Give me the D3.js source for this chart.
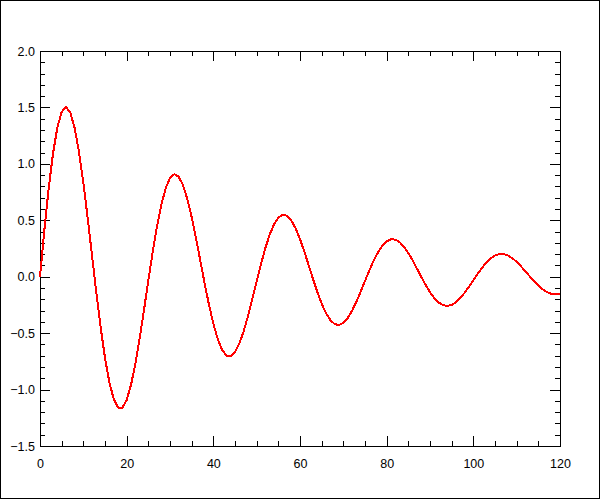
<!DOCTYPE html>
<html>
<head>
<meta charset="utf-8">
<script src="https://cdn.jsdelivr.net/npm/d3@7"></script>
<style>
  body { margin: 0; background: #fff; }
  svg { display: block; }
  .axis text { font-family: "Liberation Sans", Arial, sans-serif; font-size: 12.5px; fill: #000; }
  .axis path, .axis line { stroke: #000; shape-rendering: crispEdges; }
</style>
</head>
<body>
<div id="chart"></div>
<script>
// sample positions (x) and damped oscillation values (y)
const xValues = d3.range(0, 121);
const yValues = [
  0.000, 0.412, 0.783, 1.091, 1.321, 1.460, 1.504, 1.454, 1.317, 1.105,
  0.833, 0.521, 0.189, -0.142, -0.451, -0.720, -0.934, -1.083, -1.159, -1.162,
  -1.093, -0.959, -0.772, -0.546, -0.294, -0.034, 0.217, 0.446, 0.638, 0.783,
  0.875, 0.909, 0.887, 0.811, 0.688, 0.527, 0.341, 0.141, -0.060, -0.249,
  -0.416, -0.550, -0.646, -0.698, -0.705, -0.669, -0.593, -0.483, -0.349, -0.198,
  -0.041, 0.112, 0.253, 0.372, 0.464, 0.524, 0.549, 0.540, 0.498, 0.427,
  0.333, 0.222, 0.102, -0.020, -0.136, -0.239, -0.323, -0.384, -0.420, -0.428,
  -0.409, -0.366, -0.302, -0.223, -0.132, -0.038, 0.056, 0.142, 0.216, 0.274,
  0.313, 0.332, 0.329, 0.306, 0.265, 0.210, 0.144, 0.071, -0.003, -0.073,
  -0.137, -0.189, -0.228, -0.252, -0.259, -0.250, -0.226, -0.189, -0.142, -0.088,
  -0.030, 0.026, 0.079, 0.125, 0.162, 0.187, 0.200, 0.200, 0.187, 0.164,
  0.132, 0.092, 0.049, 0.004, -0.039, -0.078, -0.111, -0.136, -0.151, -0.157,
  -0.152
];

const xMajorTicks = [0, 20, 40, 60, 80, 100, 120];
const xMinorTicks = d3.range(0, 121, 5);
const yMajorTicks = [-1.5, -1.0, -0.5, 0.0, 0.5, 1.0, 1.5, 2.0];
const yMinorTicks = d3.range(-15, 21).map(d => d / 10);

const config = {
  width: 600,
  height: 500,
  margin: {top: 51, right: 40, bottom: 54, left: 40}
};

const innerW = config.width - config.margin.left - config.margin.right;
const innerH = config.height - config.margin.top - config.margin.bottom;

const svg = d3.select('#chart').append('svg')
  .attr('width', config.width)
  .attr('height', config.height);

// outer frame of the window
svg.append('rect')
  .attr('x', 0.5).attr('y', 0.5)
  .attr('width', 599).attr('height', 498)
  .attr('fill', 'none')
  .attr('stroke', '#000')
  .attr('shape-rendering', 'crispEdges');

const chart = svg.append('g')
  .attr('transform', `translate(${config.margin.left},${config.margin.top})`);

const x = d3.scaleLinear().domain([0, 120]).range([0, innerW]);
const y = d3.scaleLinear().domain([-1.5, 2.0]).range([innerH, 0]);

// bottom axis with labels, ticks pointing inward
chart.append('g')
  .attr('class', 'axis')
  .attr('transform', `translate(0,${innerH})`)
  .call(d3.axisBottom(x).tickValues(xMajorTicks).tickSize(-10).tickSizeOuter(0).tickPadding(13).tickFormat(d3.format('d')));

chart.append('g')
  .attr('class', 'axis')
  .attr('transform', `translate(0,${innerH})`)
  .call(d3.axisBottom(x).tickValues(xMinorTicks).tickSize(-5).tickSizeOuter(0).tickFormat(''))
  .call(g => g.select('.domain').remove());

// top axis, ticks only
chart.append('g')
  .attr('class', 'axis')
  .call(d3.axisTop(x).tickValues(xMajorTicks).tickSize(-10).tickSizeOuter(0).tickFormat(''));

chart.append('g')
  .attr('class', 'axis')
  .call(d3.axisTop(x).tickValues(xMinorTicks).tickSize(-5).tickSizeOuter(0).tickFormat(''))
  .call(g => g.select('.domain').remove());

// left axis with labels
chart.append('g')
  .attr('class', 'axis')
  .call(d3.axisLeft(y).tickValues(yMajorTicks).tickSize(-10).tickSizeOuter(0).tickPadding(5).tickFormat(d3.format('.1f')));

chart.append('g')
  .attr('class', 'axis')
  .call(d3.axisLeft(y).tickValues(yMinorTicks).tickSize(-5).tickSizeOuter(0).tickFormat(''))
  .call(g => g.select('.domain').remove());

// right axis, ticks only
chart.append('g')
  .attr('class', 'axis')
  .attr('transform', `translate(${innerW},0)`)
  .call(d3.axisRight(y).tickValues(yMajorTicks).tickSize(-10).tickSizeOuter(0).tickFormat(''));

chart.append('g')
  .attr('class', 'axis')
  .attr('transform', `translate(${innerW},0)`)
  .call(d3.axisRight(y).tickValues(yMinorTicks).tickSize(-5).tickSizeOuter(0).tickFormat(''))
  .call(g => g.select('.domain').remove());

const line = d3.line()
  .x((d, i) => x(xValues[i]))
  .y(d => y(d));

// aliased 2px red trace, like the original
chart.append('path')
  .datum(yValues)
  .attr('fill', 'none')
  .attr('stroke', '#ff0000')
  .attr('stroke-width', 2)
  .attr('shape-rendering', 'crispEdges')
  .attr('d', line);
</script>
</body>
</html>
